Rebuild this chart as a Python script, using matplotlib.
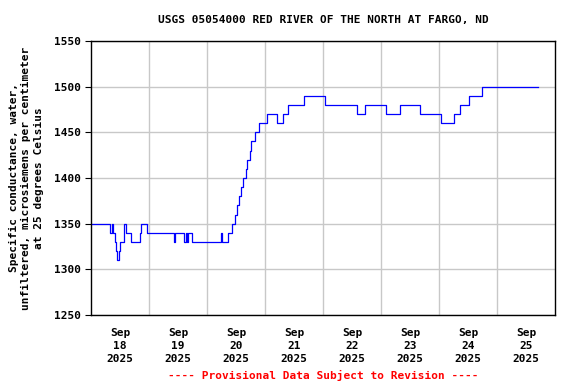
import numpy as np
import pandas as pd
import matplotlib
matplotlib.use("Agg")
import matplotlib.pyplot as plt
import matplotlib.dates as mdates

# step change points (local time) and specific conductance values
times = ["09-18 00:00", "09-18 07:45", "09-18 08:45", "09-18 09:15", "09-18 10:00",
         "09-18 10:15", "09-18 10:45", "09-18 11:30", "09-18 12:00", "09-18 13:45",
         "09-18 14:30", "09-18 16:30", "09-18 20:15", "09-18 20:45", "09-18 23:15",
         "09-19 10:30", "09-19 10:45", "09-19 14:30", "09-19 15:15", "09-19 15:45",
         "09-19 16:15", "09-19 17:45", "09-20 05:45", "09-20 06:15", "09-20 08:45",
         "09-20 10:30", "09-20 11:30", "09-20 12:30", "09-20 13:15", "09-20 14:00",
         "09-20 15:00", "09-20 16:00", "09-20 16:30", "09-20 17:45", "09-20 18:15",
         "09-20 19:45", "09-20 21:30", "09-21 00:45", "09-21 05:00", "09-21 07:15",
         "09-21 09:30", "09-21 16:15", "09-22 01:00", "09-22 14:15", "09-22 17:15",
         "09-23 02:00", "09-23 08:00", "09-23 16:15", "09-24 01:00", "09-24 06:15",
         "09-24 08:30", "09-24 12:30", "09-24 17:45", "09-25 17:00"]
values = [1350, 1340, 1350, 1340, 1330,
          1320, 1310, 1320, 1330, 1350,
          1340, 1330, 1340, 1350, 1340,
          1330, 1340, 1330, 1340, 1330,
          1340, 1330, 1340, 1330, 1340,
          1350, 1360, 1370, 1380, 1390,
          1400, 1410, 1420, 1430, 1440,
          1450, 1460, 1470, 1460, 1470,
          1480, 1490, 1480, 1470, 1480,
          1470, 1480, 1470, 1460, 1470,
          1480, 1490, 1500, 1500]

day_labels = ["Sep\n18\n2025", "Sep\n19\n2025", "Sep\n20\n2025", "Sep\n21\n2025",
              "Sep\n22\n2025", "Sep\n23\n2025", "Sep\n24\n2025", "Sep\n25\n2025"]

t = pd.to_datetime(["2025-" + s for s in times], format="%Y-%m-%d %H:%M")

plt.rcParams['font.family'] = ['DejaVu Sans Mono']
plt.rcParams['font.weight'] = 'bold'

fig = plt.figure(figsize=(5.76, 3.84), dpi=100)
ax = fig.add_axes([91/576, 1-315/384, 464/576, 274/384])

ax.plot(t, values, drawstyle='steps-post', color='#0000ff', lw=0.9)

start = pd.Timestamp("2025-09-18")
ax.set_xlim(start, start + pd.Timedelta(days=8))
ax.set_ylim(1250, 1550)
ax.set_yticks(np.arange(1250, 1551, 50))

mids = [start + pd.Timedelta(hours=12 + 24*i) for i in range(8)]
ax.set_xticks(mids)
ax.set_xticklabels(day_labels, fontsize=8, fontweight='bold', linespacing=1.4)
ax.set_xticks([start + pd.Timedelta(days=i) for i in range(1, 8)], minor=True)
ax.tick_params(axis='x', which='major', length=0, pad=9)
ax.tick_params(axis='x', which='minor', length=0)
ax.tick_params(axis='y', labelsize=8, length=4, width=0.8)
for lab in ax.get_yticklabels():
    lab.set_fontweight('bold')

ax.grid(False)
ax.grid(True, axis='x', which='minor', color='#c8c8c8', lw=1)
ax.grid(True, axis='y', which='major', color='#c8c8c8', lw=1)
ax.set_axisbelow(True)
for sp in ax.spines.values():
    sp.set_color('black')
    sp.set_linewidth(1)

ax.set_ylabel("Specific conductance, water,\nunfiltered, microsiemens per centimeter\nat 25 degrees Celsius",
              fontsize=8, fontweight='bold', linespacing=1.3, labelpad=7)
ax.set_title("USGS 05054000 RED RIVER OF THE NORTH AT FARGO, ND",
             fontsize=8, fontweight='bold', pad=13)
fig.text(323/576, 1-375/384, "---- Provisional Data Subject to Revision ----",
         color='red', fontsize=8, fontweight='bold', ha='center', va='center')

fig.savefig("out.png", dpi=100)
